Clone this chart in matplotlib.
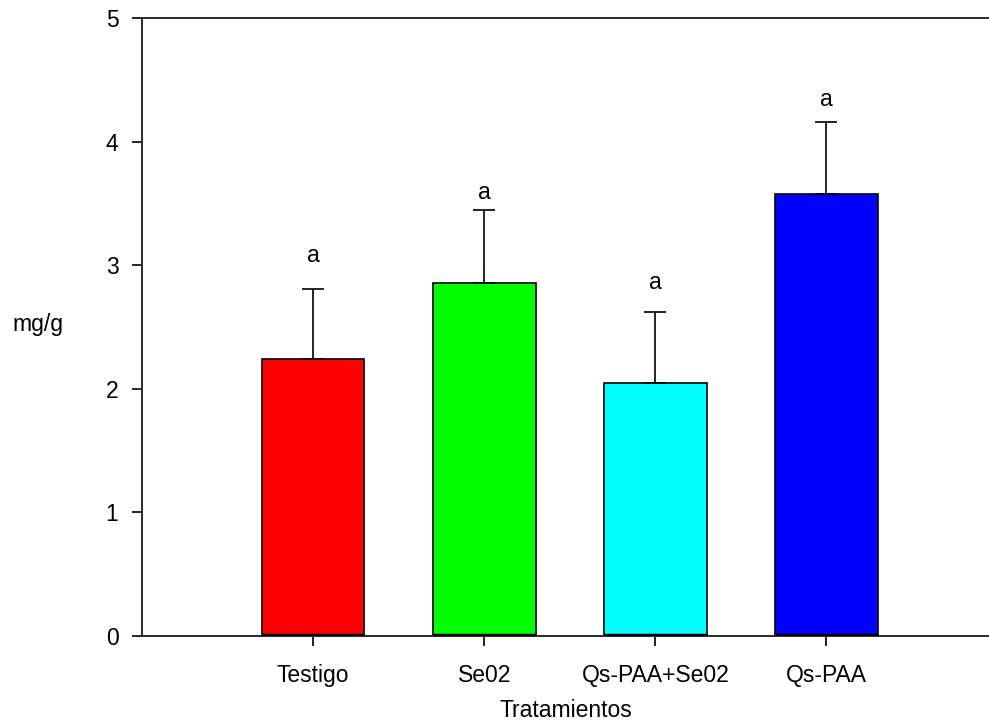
import numpy as np
import matplotlib.pyplot as plt

# datos
tratamientos = ['Testigo', 'Se02', 'Qs-PAA+Se02', 'Qs-PAA']
medias = [2.24, 2.86, 2.05, 3.58]
errores = [0.57, 0.59, 0.57, 0.58]
letras = ['a', 'a', 'a', 'a']
altura_letras = [3.08, 3.59, 2.86, 4.34]
colores = ['#ff0000', '#00ff00', '#00ffff', '#0000ff']

plt.rcParams['font.family'] = ['Liberation Sans', 'DejaVu Sans']

fig = plt.figure(figsize=(9.89, 7.25), dpi=100)
ax = fig.add_axes([142/989, (725-636)/725, (989-142)/989, (636-18)/725])

x = np.arange(len(tratamientos))
ax.bar(x, medias, width=0.6, color=colores, edgecolor='black', linewidth=1.2, zorder=2)
# borde inferior mas grueso
ax.hlines(np.full(len(x), 0.012), x - 0.3, x + 0.3, color='black', linewidth=2.5, zorder=3)
ax.errorbar(x, medias, yerr=[np.zeros(len(x)), errores], fmt='none', ecolor='black',
            elinewidth=1.2, capsize=8, capthick=1.2, zorder=3)

for xi, h, l in zip(x, altura_letras, letras):
    ax.text(xi, h, l, ha='center', va='center', fontsize=16.5)

ax.set_xlim(-1.0, 3.95)
ax.set_ylim(0, 5)
ax.set_yticks([0, 1, 2, 3, 4, 5])
ax.set_xticks(x)
ax.set_xticklabels(tratamientos)
ax.tick_params(axis='both', direction='out', length=7, width=1.2, labelsize=16.5, colors='black')
ax.tick_params(axis='x', pad=13)
ax.tick_params(axis='y', pad=10)
for s in ['left', 'top', 'bottom']:
    ax.spines[s].set_linewidth(1.4)
    ax.spines[s].set_color('#2a2a2a')
ax.spines['right'].set_visible(False)

ax.set_xlabel('Tratamientos', fontsize=16.5, labelpad=9)
ax.set_ylabel('mg/g', fontsize=16.5, rotation=0, ha='center', va='center')
ax.yaxis.set_label_coords(-0.123, 0.504)

plt.savefig('out.png', dpi=100)
